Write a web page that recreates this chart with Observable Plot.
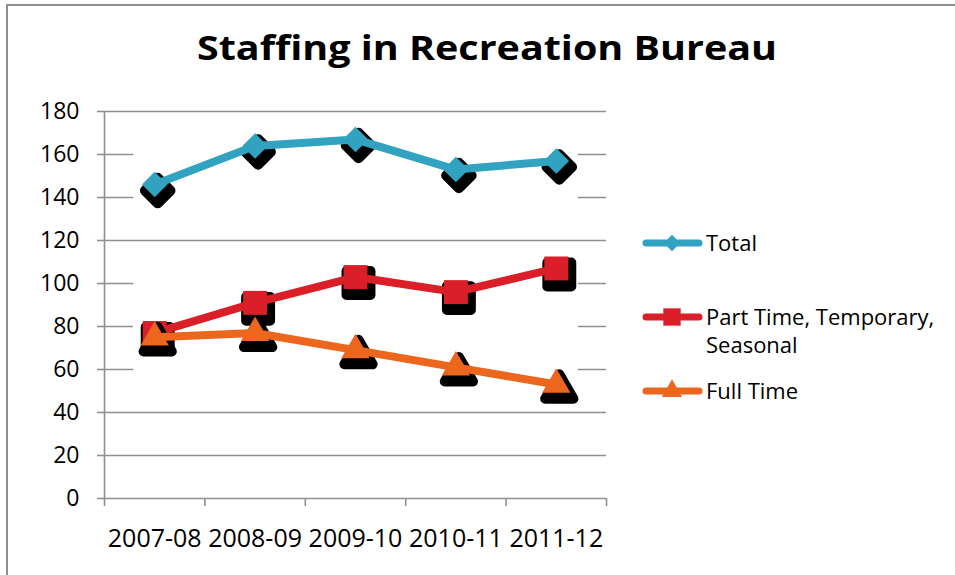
<!DOCTYPE html>
<html>
<head>
<meta charset="utf-8">
<script src="https://cdn.jsdelivr.net/npm/d3@7"></script>
<script src="https://cdn.jsdelivr.net/npm/@observablehq/plot@0.6"></script>
<style>
  html, body { margin: 0; padding: 0; background: white; }
  #chart svg { display: block; }
</style>
</head>
<body>
<div id="chart"></div>
<script>
// ---- data ----
const categories = ["2007-08", "2008-09", "2009-10", "2010-11", "2011-12"];
const total      = [146, 164, 167, 153, 157];
const partTime   = [77, 91, 103, 96, 107];
const fullTime   = [75, 77, 69, 61, 53];
const yTicks     = [0, 20, 40, 60, 80, 100, 120, 140, 160, 180];
const seriesNames = ["Total", "Part Time, Temporary, Seasonal", "Full Time"];
const seriesValues = [total, partTime, fullTime];
const seriesColors = ["#31a3c0", "#da1f29", "#ec671d"];
const seriesSymbols = ["diamond2", "square", "triangle"];
const titleText = "Staffing in Recreation Bureau";

// ---- build tables ----
const series = seriesNames.map((name, k) => ({
  name,
  color: seriesColors[k],
  symbol: seriesSymbols[k],
  rows: seriesValues[k].map((v, i) => ({i, category: categories[i], value: v}))
}));
const extents = series.map(s => ({
  name: s.name,
  first: 0,
  last: categories.length - 1,
  lo: d3.min(s.rows, d => d.value) - 8,
  hi: d3.max(s.rows, d => d.value) + 8
}));
const centers = categories.map((_, i) => i);
const bounds = d3.range(categories.length + 1).map(i => i - 0.5);

const gray = "#8f8f8f";
const font = "Open Sans";
const markerR = {diamond2: 11.5, square: 13.5, triangle: 10.5};

const marks = [
  // gridlines
  Plot.ruleY(yTicks, {stroke: gray, strokeWidth: 1.6}),
  // white halo behind each series (hides grid lines, as in the original)
  Plot.rect(extents, {
    x1: d => d.first, x2: d => d.last,
    y1: d => d.lo, y2: d => d.hi,
    insetLeft: -21, insetRight: -22,
    fill: "#ffffff"
  }),
  // vertical axis line
  Plot.ruleX([bounds[0]], {stroke: gray, strokeWidth: 1.6}),
  Plot.axisY(yTicks, {
    tickSize: 7, tickPadding: 18, stroke: gray, strokeWidth: 1.6,
    fill: "black", fontSize: 23, label: null
  }),
  // category boundary ticks
  Plot.axisX(bounds, {
    tickSize: 8, stroke: gray, strokeWidth: 1.6, tickFormat: () => "", label: null
  }),
  // category labels
  Plot.axisX(centers, {
    tickSize: 0, tickPadding: 31, tickFormat: i => categories[i],
    fill: "black", fontSize: 25, label: null
  })
];

for (const s of series) {
  marks.push(
    Plot.dot(s.rows, {
      x: "i", y: "value", symbol: s.symbol, r: markerR[s.symbol],
      fill: "black", stroke: "black", strokeWidth: 10, strokeLinejoin: "round",
      dx: 3, dy: 6
    }),
    Plot.line(s.rows, {
      x: "i", y: "value", stroke: s.color, strokeWidth: 8,
      strokeLinejoin: "round", strokeLinecap: "round"
    }),
    Plot.dot(s.rows, {
      x: "i", y: "value", symbol: s.symbol, r: markerR[s.symbol],
      fill: s.color, stroke: "none"
    })
  );
}

const chart = Plot.plot({
  width: 955,
  height: 575,
  marginLeft: 104,
  marginRight: 349,
  marginTop: 111,
  marginBottom: 77,
  x: {type: "linear", domain: [bounds[0], bounds[bounds.length - 1]]},
  y: {domain: [0, 180]},
  style: {fontFamily: font, background: "white", color: "black", overflow: "visible"},
  marks
});

document.getElementById("chart").appendChild(chart);

// ---- decorations: border, title, legend ----
const svg = d3.select(chart);
svg.append("line").attr("x1", 6).attr("x2", 955).attr("y1", 5).attr("y2", 5)
  .attr("stroke", gray).attr("stroke-width", 2);
svg.append("line").attr("x1", 7).attr("x2", 7).attr("y1", 4).attr("y2", 575)
  .attr("stroke", gray).attr("stroke-width", 2);

svg.append("text")
  .attr("x", 487).attr("y", 60)
  .attr("text-anchor", "middle")
  .attr("font-family", font)
  .attr("font-weight", 700)
  .attr("font-size", 34)
  .attr("textLength", 580)
  .attr("lengthAdjust", "spacingAndGlyphs")
  .attr("fill", "black")
  .text(titleText);

const legendY = [243, 317, 391];
const legendLines = [["Total"], ["Part Time, Temporary,", "Seasonal"], ["Full Time"]];
const legendSym = {
  diamond2: d3.symbol(d3.symbolDiamond2, 170),
  square: d3.symbol(d3.symbolSquare, 300),
  triangle: d3.symbol(d3.symbolTriangle, 180)
};
series.forEach((s, k) => {
  const g = svg.append("g").attr("transform", `translate(0,${legendY[k]})`);
  g.append("line").attr("x1", 646).attr("x2", 699).attr("y1", 0).attr("y2", 0)
    .attr("stroke", s.color).attr("stroke-width", 7).attr("stroke-linecap", "round");
  g.append("path").attr("d", legendSym[s.symbol]())
    .attr("transform", "translate(672,0)").attr("fill", s.color);
  const t = g.append("text").attr("x", 706).attr("y", 8)
    .attr("text-anchor", "start")
    .attr("font-family", font).attr("font-size", 22).attr("fill", "black");
  legendLines[k].forEach((line, j) => {
    t.append("tspan").attr("x", 706).attr("dy", j === 0 ? 0 : 28).text(line);
  });
});
</script>
</body>
</html>
